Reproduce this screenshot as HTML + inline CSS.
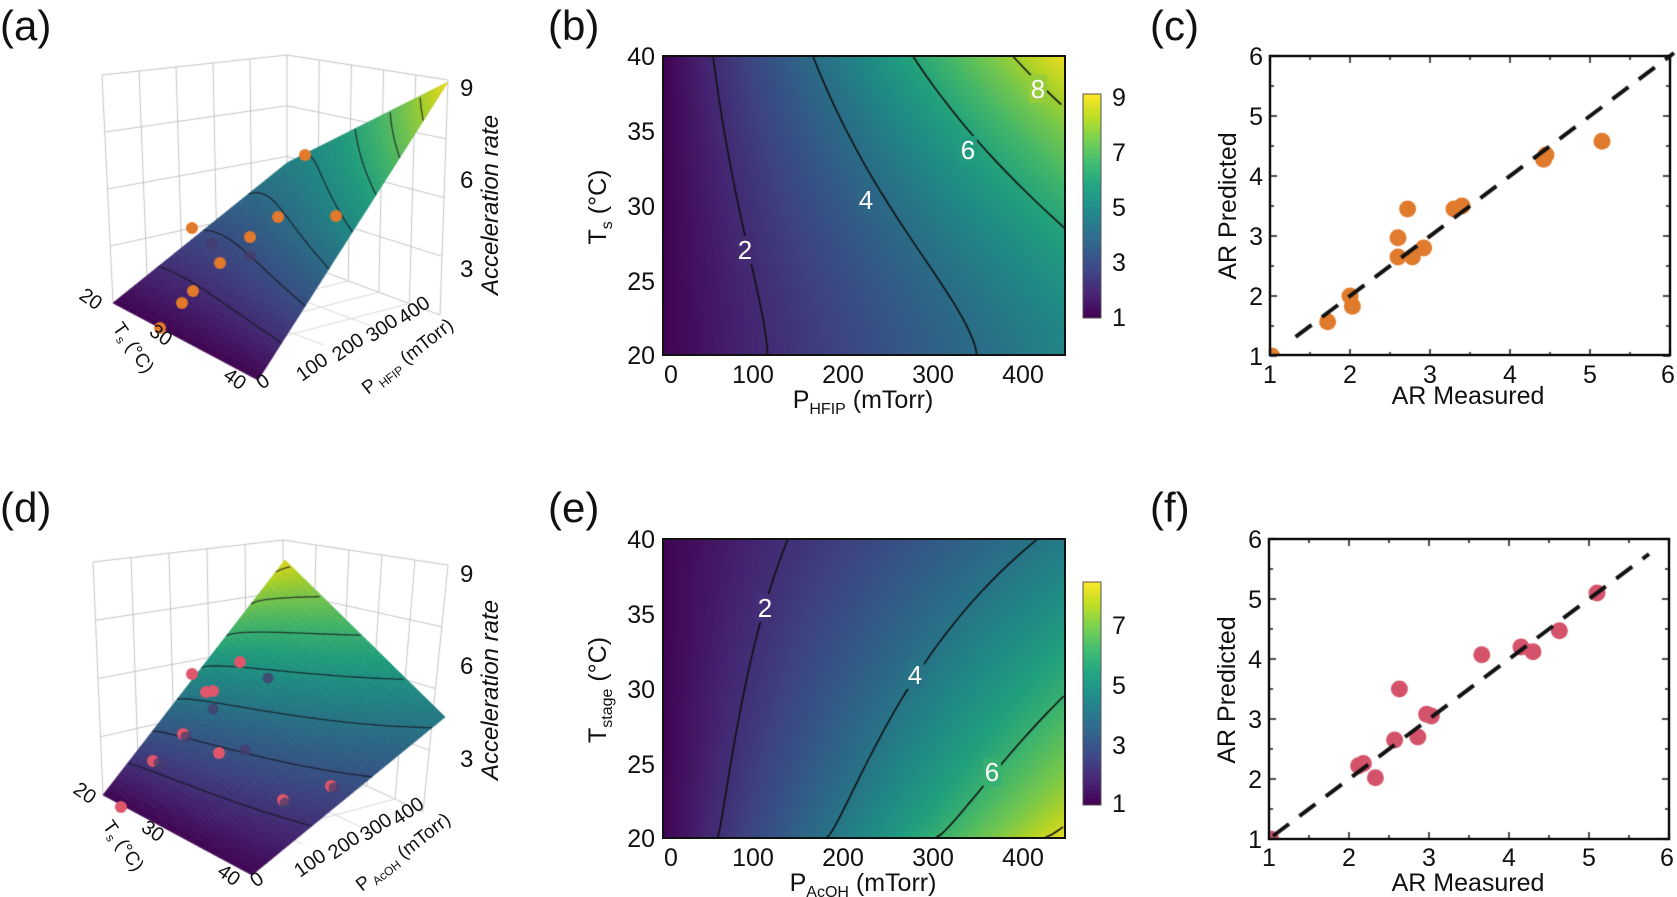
<!DOCTYPE html>
<html><head><meta charset="utf-8">
<style>
html,body{margin:0;padding:0;background:#fff;}
#wrap{position:relative;width:1677px;height:897px;overflow:hidden;background:#fff;}
canvas,svg{position:absolute;left:0;top:0;}
text{font-family:"Liberation Sans",Arial,sans-serif;fill:#111;}
text.w{fill:#fff;}
</style></head>
<body><div id="wrap">
<canvas id="cv" width="1677" height="897"></canvas>
<svg id="sv" width="1677" height="897" viewBox="0 0 1677 897">
<text x="0" y="40" font-size="42">(a)</text>
<text x="548" y="40" font-size="42">(b)</text>
<text x="1150" y="40" font-size="42">(c)</text>
<text x="0" y="522" font-size="42">(d)</text>
<text x="548" y="522" font-size="42">(e)</text>
<text x="1150" y="522" font-size="42">(f)</text>

<rect x="663" y="56" width="402" height="299" fill="none" stroke="#111" stroke-width="2"/>
<g font-size="25" text-anchor="end">
<text x="655" y="65">40</text><text x="655" y="140">35</text><text x="655" y="215">30</text><text x="655" y="290">25</text><text x="655" y="364">20</text>
</g>
<g font-size="25" text-anchor="middle">
<text x="671" y="383">0</text><text x="753" y="383">100</text><text x="843" y="383">200</text><text x="933" y="383">300</text><text x="1023" y="383">400</text>
<text x="863" y="408">P<tspan font-size="16" dy="6">HFIP</tspan><tspan dy="-6"> (mTorr)</tspan></text>
<text transform="translate(606,207) rotate(-90)">T<tspan font-size="16" dy="6">s</tspan><tspan dy="-6"> (°C)</tspan></text>
</g>
<g font-size="26" text-anchor="middle">
<text class="w" x="745" y="259">2</text><text class="w" x="866" y="209">4</text><text class="w" x="968" y="159">6</text><text class="w" x="1038" y="98">8</text>
</g>
<rect x="1083" y="94" width="18" height="224" fill="none" stroke="#555" stroke-width="1"/>
<g font-size="25"><text x="1112" y="106">9</text><text x="1112" y="161">7</text><text x="1112" y="216">5</text><text x="1112" y="271">3</text><text x="1112" y="326">1</text></g>

<rect x="663" y="539" width="402" height="299" fill="none" stroke="#111" stroke-width="2"/>
<g font-size="25" text-anchor="end">
<text x="655" y="548">40</text><text x="655" y="623">35</text><text x="655" y="698">30</text><text x="655" y="773">25</text><text x="655" y="847">20</text>
</g>
<g font-size="25" text-anchor="middle">
<text x="671" y="866">0</text><text x="753" y="866">100</text><text x="843" y="866">200</text><text x="933" y="866">300</text><text x="1023" y="866">400</text>
<text x="863" y="891">P<tspan font-size="16" dy="6">AcOH</tspan><tspan dy="-6"> (mTorr)</tspan></text>
<text transform="translate(606,690) rotate(-90)">T<tspan font-size="16" dy="6">stage</tspan><tspan dy="-6"> (°C)</tspan></text>
</g>
<g font-size="26" text-anchor="middle">
<text class="w" x="765" y="617">2</text><text class="w" x="915" y="684">4</text><text class="w" x="992" y="781">6</text>
</g>
<rect x="1083" y="582" width="18" height="223" fill="none" stroke="#555" stroke-width="1"/>
<g font-size="25"><text x="1112" y="634">7</text><text x="1112" y="694">5</text><text x="1112" y="754">3</text><text x="1112" y="812">1</text></g>

<rect x="1270" y="56" width="400" height="299" fill="none" stroke="#111" stroke-width="2.5"/>
<g font-size="25" text-anchor="end">
<text x="1263" y="65">6</text><text x="1263" y="125">5</text><text x="1263" y="185">4</text><text x="1263" y="245">3</text><text x="1263" y="305">2</text><text x="1263" y="365">1</text>
</g>
<g font-size="25" text-anchor="middle">
<text x="1270" y="383">1</text><text x="1350" y="383">2</text><text x="1430" y="383">3</text><text x="1510" y="383">4</text><text x="1590" y="383">5</text><text x="1668" y="383">6</text>
<text x="1468" y="404">AR Measured</text>
<text transform="translate(1236,206) rotate(-90)">AR Predicted</text>
</g>
<rect x="1269" y="539" width="400" height="300" fill="none" stroke="#111" stroke-width="2.5"/>
<g font-size="25" text-anchor="end">
<text x="1262" y="548">6</text><text x="1262" y="608">5</text><text x="1262" y="668">4</text><text x="1262" y="728">3</text><text x="1262" y="788">2</text><text x="1262" y="848">1</text>
</g>
<g font-size="25" text-anchor="middle">
<text x="1269" y="866">1</text><text x="1349" y="866">2</text><text x="1429" y="866">3</text><text x="1509" y="866">4</text><text x="1589" y="866">5</text><text x="1667" y="866">6</text>
<text x="1468" y="891">AR Measured</text>
<text transform="translate(1235,690) rotate(-90)">AR Predicted</text>
</g>

<g font-size="20">
<text x="460" y="96" font-size="24">9</text><text x="460" y="188" font-size="24">6</text><text x="460" y="277" font-size="24">3</text>
<text transform="translate(498,205) rotate(-90)" font-style="italic" font-size="24" text-anchor="middle">Acceleration rate</text>
<text transform="translate(78,298) rotate(35)">20</text>
<text transform="translate(148,334) rotate(35)">30</text>
<text transform="translate(222,378) rotate(35)">40</text>
<text transform="translate(112,328) rotate(55)" font-size="19">T<tspan font-size="12" dy="4">s</tspan><tspan dy="-4"> (°C)</tspan></text>
<text transform="translate(262,390) rotate(-35)">0</text>
<text transform="translate(302,382) rotate(-35)">100</text>
<text transform="translate(338,362) rotate(-35)">200</text>
<text transform="translate(372,343) rotate(-35)">300</text>
<text transform="translate(404,325) rotate(-35)">400</text>
<text transform="translate(368,395) rotate(-38)" font-size="19">P<tspan font-size="12" dy="4"> HFIP</tspan><tspan dy="-4"> (mTorr)</tspan></text>
</g>
<g font-size="20">
<text x="460" y="582" font-size="24">9</text><text x="460" y="674" font-size="24">6</text><text x="460" y="767" font-size="24">3</text>
<text transform="translate(498,690) rotate(-90)" font-style="italic" font-size="24" text-anchor="middle">Acceleration rate</text>
<text transform="translate(72,792) rotate(35)">20</text>
<text transform="translate(140,830) rotate(35)">30</text>
<text transform="translate(216,874) rotate(35)">40</text>
<text transform="translate(102,826) rotate(55)" font-size="19">T<tspan font-size="12" dy="4">s</tspan><tspan dy="-4"> (°C)</tspan></text>
<text transform="translate(256,888) rotate(-35)">0</text>
<text transform="translate(300,878) rotate(-35)">100</text>
<text transform="translate(334,860) rotate(-35)">200</text>
<text transform="translate(366,842) rotate(-35)">300</text>
<text transform="translate(398,826) rotate(-35)">400</text>
<text transform="translate(362,892) rotate(-38)" font-size="19">P<tspan font-size="12" dy="4"> AcOH</tspan><tspan dy="-4"> (mTorr)</tspan></text>
</g>
</svg>
</div>
<script>
(function(){
var stops=[[68,1,84],[72,36,117],[65,68,135],[53,95,141],[42,120,142],[33,145,140],[34,168,132],[68,191,112],[122,209,81],[189,223,38],[253,231,37]];
function vir(t){t=Math.max(0,Math.min(1,t));var x=t*10,i=Math.min(9,Math.floor(x)),f=x-i,a=stops[i],b=stops[i+1];
return [a[0]+(b[0]-a[0])*f,a[1]+(b[1]-a[1])*f,a[2]+(b[2]-a[2])*f];}
function rgb(c){return 'rgb('+Math.round(c[0])+','+Math.round(c[1])+','+Math.round(c[2])+')';}
function sb(T){return 0.0086+0.0094*Math.pow((T-20)/20,1.5);}
function se(T){return 0.0165-0.0093*Math.pow(Math.max(0,(T-20)/20),0.76);}
function fb(P,T){return 1+sb(T)*P;}
function fe(P,T){return 1+se(T)*P;}
var cv=document.getElementById('cv'),ctx=cv.getContext('2d');
function heat(x0,y0,w,h,f,vmin,vmax,s,levels){
 var img=ctx.createImageData(w,h);
 for(var j=0;j<h;j++){var T=40-j/(h-1)*20;for(var i=0;i<w;i++){var P=i/(w-1)*447;var c=vir((f(P,T)-vmin)/(vmax-vmin));var k=(j*w+i)*4;
 img.data[k]=c[0]*0.95;img.data[k+1]=c[1]*0.95;img.data[k+2]=c[2]*0.95;img.data[k+3]=255;}}
 ctx.putImageData(img,x0,y0);
 ctx.strokeStyle='#111';ctx.lineWidth=1.6;
 levels.forEach(function(L){ctx.beginPath();var st=false;
  for(var T=20;T<=40.001;T+=0.25){var P=(L-1)/s(T);if(P>447||P<0){st=false;continue;}
   var x=x0+P/447*w,y=y0+(40-T)/20*h;if(!st){ctx.moveTo(x,y);st=true;}else ctx.lineTo(x,y);}
  ctx.stroke();});
}
heat(663,56,402,299,fb,0.95,9.1,sb,[2,4,6,8]);
heat(663,539,402,299,fe,0.93,8.45,se,[2,4,6,8]);
// gaps behind contour labels
function gap(x,y,f,P,T,vmin,vmax){var c=vir((f(P,T)-vmin)/(vmax-vmin));ctx.fillStyle=rgb([c[0]*0.95,c[1]*0.95,c[2]*0.95]);ctx.fillRect(x-9,y-14,18,28);}
function inv(x,y,y0){return [(x-663)/402*447,40-(y-y0)/299*20];}
[[745,250],[866,200],[968,150],[1038,89]].forEach(function(p){var q=inv(p[0],p[1],56);gap(p[0],p[1],fb,q[0],q[1],0.95,9.1);});
[[765,608],[915,675],[992,772]].forEach(function(p){var q=inv(p[0],p[1],539);gap(p[0],p[1],fe,q[0],q[1],0.93,8.45);});
function cbar(x,y,w,h){for(var j=0;j<h;j++){ctx.fillStyle=rgb(vir(1-j/(h-1)));ctx.fillRect(x,y+j,w,1);}}
cbar(1083,94,18,224);cbar(1083,582,18,223);

function line(pts,col,lw){ctx.strokeStyle=col;ctx.lineWidth=lw||1;ctx.beginPath();ctx.moveTo(pts[0][0],pts[0][1]);for(var i=1;i<pts.length;i++)ctx.lineTo(pts[i][0],pts[i][1]);ctx.stroke();}
function lerp(a,b,t){return [a[0]+(b[0]-a[0])*t,a[1]+(b[1]-a[1])*t];}
function box(L0,L1,B0,B1,R0,R1){
 var g='#c4c4c4';
 line([L1,B1,R1],g,1.2);line([L0,L1],g);line([B0,B1],g);line([R0,R1],g);
 line([L0,B0,R0],g);
 for(var k=1;k<4;k++){var t=k/4;line([lerp(L0,L1,t),lerp(B0,B1,t),lerp(R0,R1,t)],g);}
 for(var k=1;k<5;k++){var t=k/5;line([lerp(L0,B0,t),lerp(L1,B1,t)],g);line([lerp(B0,R0,t),lerp(B1,R1,t)],g);}
 var F=[L0[0]+R0[0]-B0[0],L0[1]+R0[1]-B0[1]];
 for(var k=1;k<5;k++){var t=k/5;line([lerp(B0,R0,t),lerp(L0,F,t)],'#d8d8d8');}
 for(var k=1;k<3;k++){var t=k/3;line([lerp(B0,L0,t),lerp(R0,F,t)],'#d8d8d8');}
}
box([113,303],[102,75],[287,258],[287,55],[440,315],[448,80]);
box([103,795],[93,562],[283,747],[283,540],[423,812],[448,565]);

function surf(cL,cF,cR,cB,f,vmin,vmax,s,levels){
 function pt(u,v){var a=lerp(cL,cF,u),b=lerp(cB,cR,u);return lerp(a,b,v);}
 var N=40;
 for(var i=0;i<N;i++)for(var j=0;j<N;j++){
  var u=(i+0.5)/N,v=(j+0.5)/N;var c=vir((f(v*447,20+u*20)-vmin)/(vmax-vmin));
  var p1=pt(i/N,j/N),p2=pt((i+1)/N,j/N),p3=pt((i+1)/N,(j+1)/N),p4=pt(i/N,(j+1)/N);
  ctx.fillStyle=rgb([c[0]*0.93,c[1]*0.93,c[2]*0.93]);ctx.strokeStyle=ctx.fillStyle;ctx.lineWidth=0.8;
  ctx.beginPath();ctx.moveTo(p1[0],p1[1]);ctx.lineTo(p2[0],p2[1]);ctx.lineTo(p3[0],p3[1]);ctx.lineTo(p4[0],p4[1]);ctx.closePath();ctx.fill();ctx.stroke();}
 ctx.strokeStyle='rgba(20,20,30,0.75)';ctx.lineWidth=1.3;
 levels.forEach(function(L){ctx.beginPath();var st=false;
  for(var T=20;T<=40.001;T+=0.25){var P=(L-1)/s(T);if(P>447||P<0){st=false;continue;}
   var p=pt((T-20)/20,P/447);if(!st){ctx.moveTo(p[0],p[1]);st=true;}else ctx.lineTo(p[0],p[1]);}
  ctx.stroke();});
}
surf([113,303],[258,380],[448,82],[287,163],fb,0.95,9.1,sb,[2,3,4,5,6,7,8]);
surf([103,795],[252,875],[445,717],[285,560],fe,0.93,8.45,se,[2,3,4,5,6,7,8]);

function dot(x,y,r,col){ctx.fillStyle=col;ctx.beginPath();ctx.arc(x,y,r,0,Math.PI*2);ctx.fill();}
var OR='#e2792b',DK='rgba(70,60,110,0.75)',PK='#e0566b';
[[305,155],[278,217],[336,216],[192,228],[250,237],[220,263],[193,291],[182,303],[160,328]].forEach(function(p){dot(p[0],p[1],6,OR);});
[[212,244],[250,256]].forEach(function(p){dot(p[0],p[1],6,DK);});
[[240,662],[192,674],[213,691],[206,692],[183,734],[219,753],[153,761],[331,786],[283,800],[121,807]].forEach(function(p){dot(p[0],p[1],6,PK);});
[[268,678],[213,709],[245,750],[159,763],[186,737],[334,788],[285,803]].forEach(function(p){dot(p[0],p[1],5.5,DK);});

function scat(x0,y0,pts,col,from,to){
 function X(v){return x0+(v-1)*80;} function Y(v){return y0+300-(v-1)*60;}
 ctx.save();ctx.beginPath();ctx.rect(x0,y0,400,300);ctx.clip();
 pts.forEach(function(p){dot(X(p[0]),Y(p[1]),8.5,col);});
 ctx.restore();
 ctx.strokeStyle='#111';ctx.lineWidth=4;ctx.setLineDash([20,13]);
 ctx.beginPath();ctx.moveTo(X(from),Y(from));ctx.lineTo(X(to),Y(to));ctx.stroke();ctx.setLineDash([]);
 ctx.lineWidth=1.5;
 for(var k=1;k<=6;k+=0.5){var len=(k%1===0)?7:4;
  ctx.beginPath();ctx.moveTo(X(k),y0+300);ctx.lineTo(X(k),y0+300-len);ctx.moveTo(X(k),y0);ctx.lineTo(X(k),y0+len);
  ctx.moveTo(x0,Y(k));ctx.lineTo(x0+len,Y(k));ctx.moveTo(x0+400,Y(k));ctx.lineTo(x0+400-len,Y(k));ctx.stroke();}
}
scat(1270,56,[[1.02,1.0],[1.72,1.57],[2.0,2.0],[2.03,1.83],[2.6,2.97],[2.72,3.45],[2.6,2.65],[2.78,2.65],[2.92,2.8],[3.3,3.45],[3.4,3.5],[4.42,4.28],[4.45,4.35],[5.15,4.58]],'#e07a2c',1.32,6.05);
scat(1269,539,[[1.02,1.0],[2.12,2.22],[2.18,2.26],[2.33,2.02],[2.57,2.65],[2.63,3.5],[2.86,2.7],[2.97,3.08],[3.03,3.05],[3.66,4.07],[4.15,4.2],[4.3,4.12],[4.63,4.47],[5.1,5.1]],'#d4536a',1.05,5.75);
})();
</script>
</body></html>
